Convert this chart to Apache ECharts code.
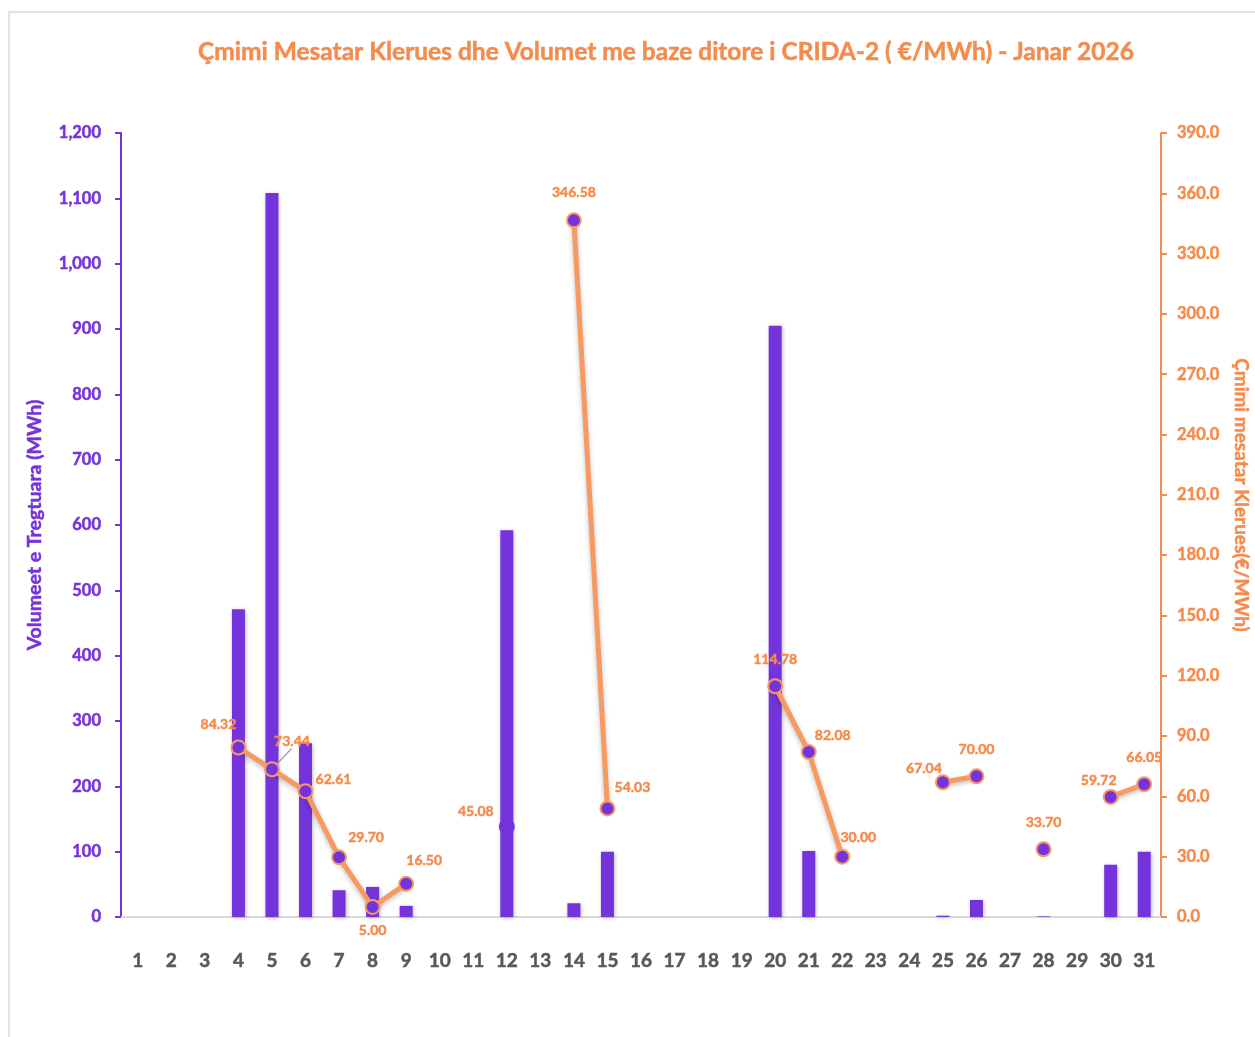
<!DOCTYPE html>
<html>
<head>
<meta charset="utf-8">
<script src="https://cdn.jsdelivr.net/npm/echarts@6/dist/echarts.min.js"></script>
<style>html,body{margin:0;padding:0;background:#fff}#c{width:1255px;height:1037px}</style>
</head>
<body>
<div id="c"></div>
<script>
const days = ['1','2','3','4','5','6','7','8','9','10','11','12','13','14','15','16','17','18','19','20','21','22','23','24','25','26','27','28','29','30','31'];
const volumes = [0,0,0,471,1108,266,41,46,17,0,0,592,0,21,100,0,0,0,0,905,101,0,0,0,2,26,0,1,0,80,100];
const prices = [null,null,null,84.32,73.44,62.61,29.70,5.00,16.50,null,null,45.08,null,346.58,54.03,null,null,null,null,114.78,82.08,30.00,null,null,67.04,70.00,null,33.70,null,59.72,66.05];
const leftTicks = {min:0,max:1200,interval:100};
const rightTicks = {min:0,max:390,interval:30};
const titleText = 'Çmimi Mesatar Klerues dhe Volumet me baze ditore i CRIDA-2 ( €/MWh) - Janar 2026';
const leftName = 'Volumeet e Tregtuara (MWh)';
const rightName = 'Çmimi mesatar Klerues(€/MWh)';

// label offsets (style only), keyed by day index
const labelOffsets = {3:[-20,-23],4:[20,-28],5:[28,-12],6:[27,-20],7:[0,24],8:[18,-23],11:[-31,-15],13:[0,-28],14:[25,-21],19:[0,-27],20:[24,-17],21:[16,-19],24:[-19,-14],25:[0,-27],27:[0,-27],29:[-12,-16],30:[0,-27]};

const PURPLE = '#7533DB';
const ORANGE = '#F58B4C';
const LINE = '#F79A62';
const FONT = 'Lato';
const bold = (color,size)=>({color:color,fontFamily:FONT,fontWeight:'bold',fontSize:size,textBorderColor:color,textBorderWidth:0.5});

const priceData = prices.map((v,i)=>{
  if (v === null) return null;
  const item = {value: v};
  const off = labelOffsets[i] || [0,-27];
  item.label = {offset: off};
  if (i === 4) {
    item.labelLine = {show:true, lineStyle:{color:'#999', width:1.2}};
  }
  if (i === 11) {
    item.itemStyle = {borderColor:PURPLE};
  }
  return item;
});

const chart = echarts.init(document.getElementById('c'));
chart.setOption({
  backgroundColor:'#fff',
  animation:false,
  title:{text:titleText,left:661,textAlign:'center',top:35,textStyle:bold(ORANGE,24.5)},
  graphic:[
    {type:'rect',shape:{x:9,y:12,width:1300,height:1100},style:{fill:'none',stroke:'#d9d9d9',lineWidth:1.5},silent:true,z:-1},
    {type:'text',x:1241,y:495,rotation:-Math.PI/2,style:Object.assign({text:rightName,align:'center',verticalAlign:'middle',fill:ORANGE,stroke:ORANGE,lineWidth:0.5,font:'bold 19px Lato'}),silent:true}
  ],
  grid:{left:121,right:94,top:133,bottom:120},
  xAxis:{type:'category',data:days,
    axisLine:{lineStyle:{color:'#d9d9d9',width:2}},
    axisTick:{show:false},
    axisLabel:Object.assign(bold('#595959',19),{margin:34})},
  yAxis:[
    {type:'value',min:leftTicks.min,max:leftTicks.max,interval:leftTicks.interval,position:'left',
     name:leftName,nameLocation:'middle',nameGap:76,nameTextStyle:bold(PURPLE,19.5),
     axisLine:{show:true,lineStyle:{color:PURPLE,width:2}},
     axisTick:{show:true,length:6,lineStyle:{color:PURPLE,width:2}},
     splitLine:{show:false},
     axisLabel:Object.assign(bold(PURPLE,16.5),{margin:20,formatter:v=>v.toLocaleString('en-US')})},
    {type:'value',min:rightTicks.min,max:rightTicks.max,interval:rightTicks.interval,position:'right',
     axisLine:{show:true,lineStyle:{color:ORANGE,width:2}},
     axisTick:{show:true,length:6,lineStyle:{color:ORANGE,width:2}},
     splitLine:{show:false},
     axisLabel:Object.assign(bold(ORANGE,16.5),{margin:16,formatter:v=>v.toFixed(1)})}
  ],
  series:[
    {type:'bar',yAxisIndex:0,data:volumes,barWidth:13,
     itemStyle:{color:PURPLE,shadowColor:'rgba(0,0,0,0.25)',shadowBlur:4,shadowOffsetX:1,shadowOffsetY:1}},
    {type:'line',yAxisIndex:1,data:priceData,connectNulls:false,
     symbol:'circle',symbolSize:14,
     lineStyle:{color:LINE,width:5,shadowColor:'rgba(0,0,0,0.25)',shadowBlur:5,shadowOffsetY:2},
     itemStyle:{color:PURPLE,borderColor:LINE,borderWidth:2},
     label:Object.assign(bold(ORANGE,14),{show:true,position:'inside',formatter:p=>p.value.toFixed(2)}),
     z:5}
  ]
});
</script>
</body>
</html>
